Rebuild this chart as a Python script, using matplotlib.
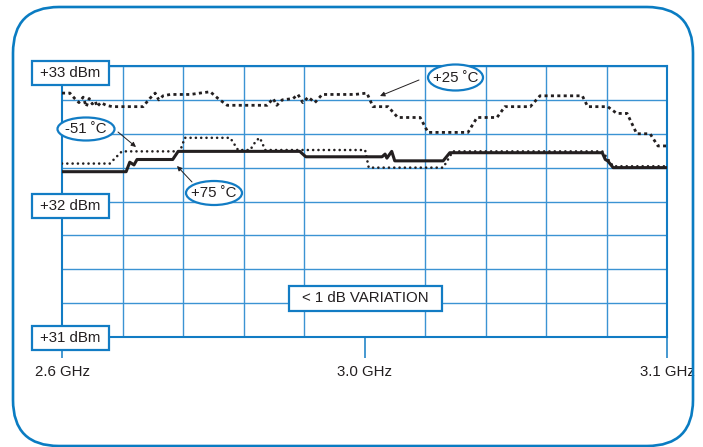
import matplotlib
matplotlib.use("Agg")
import matplotlib.pyplot as plt
from matplotlib.patches import Rectangle, Ellipse, FancyBboxPatch, FancyArrowPatch

plt.rcParams['font.family'] = ['Liberation Sans', 'DejaVu Sans']

# x in grid divisions (0 = 2.6 GHz, 5 = 3.0 GHz, 10 = 3.1 GHz), y in dBm
x_25 = [0, 0.13, 0.21, 0.28, 0.35, 0.40, 0.45, 0.50, 0.55, 0.58, 0.64, 0.73, 0.83,
        1.34, 1.45, 1.54, 1.60, 1.67, 1.79, 2.12, 2.28, 2.45, 2.58, 2.73, 3.39, 3.49,
        3.55, 3.64, 3.82, 3.90, 3.98, 4.07, 4.18, 4.30, 4.76, 4.84, 5.04, 5.14, 5.39,
        5.55, 5.92, 6.05, 6.71, 6.86, 7.19, 7.32, 7.74, 7.90, 8.60, 8.69, 9.02, 9.17,
        9.34, 9.50, 9.72, 9.85, 10]
p_25 = [32.80, 32.80, 32.76, 32.73, 32.77, 32.70, 32.76, 32.72, 32.74, 32.70, 32.73,
        32.71, 32.70, 32.70, 32.76, 32.80, 32.75, 32.78, 32.79, 32.79, 32.80, 32.81,
        32.76, 32.71, 32.71, 32.76, 32.71, 32.75, 32.76, 32.79, 32.73, 32.77, 32.73,
        32.79, 32.79, 32.79, 32.80, 32.70, 32.70, 32.62, 32.62, 32.51, 32.51, 32.62,
        32.62, 32.70, 32.70, 32.78, 32.78, 32.70, 32.70, 32.65, 32.65, 32.50, 32.50,
        32.41, 32.41]

x_m51 = [0, 0.79, 0.99, 1.95, 2.03, 2.78, 2.91, 3.11, 3.21, 3.27, 3.36, 5.01, 5.07,
         6.30, 6.46, 8.93, 9.11, 10]
p_m51 = [32.28, 32.28, 32.37, 32.37, 32.47, 32.47, 32.38, 32.38, 32.45, 32.47, 32.38,
         32.38, 32.25, 32.25, 32.37, 32.37, 32.26, 32.26]

x_75 = [0, 1.06, 1.12, 1.19, 1.24, 1.83, 1.92, 3.93, 4.03, 5.29, 5.34, 5.37, 5.45,
        5.50, 6.30, 6.41, 8.93, 8.98, 9.02, 9.11, 10]
p_75 = [32.22, 32.22, 32.29, 32.27, 32.31, 32.31, 32.37, 32.37, 32.33, 32.33, 32.35,
        32.32, 32.37, 32.30, 32.30, 32.36, 32.36, 32.31, 32.30, 32.25, 32.25]

x_ticks = [0, 5, 10]
x_labels = ["2.6 GHz", "3.0 GHz", "3.1 GHz"]
y_levels = [33, 32, 31]
y_labels = ["+33 dBm", "+32 dBm", "+31 dBm"]

BLUE = '#127cc4'
GRID = '#3b93d3'
INK = '#231f20'
W, H = 703, 447

fig = plt.figure(figsize=(W / 100, H / 100), dpi=100)
ax = fig.add_axes([62 / W, 1 - 337 / H, 605 / W, 271 / H])
ax.set_xlim(0, 10)
ax.set_ylim(31, 33)

ax.set_xticks(x_ticks)
ax.set_xticklabels(x_labels, fontsize=10.8, color=INK)
ax.set_xticks(range(11), minor=True)
ax.set_yticks([])
ax.set_yticks([31 + 0.25 * k for k in range(9)], minor=True)
ax.tick_params(axis='x', which='major', direction='out', length=15, width=1.1,
               color=BLUE, pad=5)
ax.tick_params(which='minor', length=0)
ax.grid(which='minor', color=GRID, lw=1.0)
for s in ax.spines.values():
    s.set_color(BLUE)
    s.set_linewidth(1.5)

ax.plot(x_25, p_25, color=INK, lw=2.0, linestyle=(0, (1.1, 1.2)), zorder=3)
ax.plot(x_m51, p_m51, color=INK, lw=1.9, linestyle=(0, (0.01, 2.0)),
        dash_capstyle='round', zorder=3)
ax.plot(x_75, p_75, color=INK, lw=2.2, zorder=4)

tr = fig.dpi_scale_trans


def P(px, py):
    return px / 100, (H - py) / 100


def label_box(cx, cy, w, h, txt):
    x0, y0 = P(cx - w / 2, cy + h / 2)
    fig.add_artist(Rectangle((x0, y0), w / 100, h / 100, transform=tr,
                             facecolor='white', edgecolor=BLUE, lw=1.6, zorder=5))
    fig.text(*P(cx, cy), txt, transform=tr, ha='center', va='center',
             fontsize=10.8, color=INK, zorder=6)


def label_oval(cx, cy, w, h, txt):
    fig.add_artist(Ellipse(P(cx, cy), w / 100, h / 100, transform=tr,
                           facecolor='white', edgecolor=BLUE, lw=1.6, zorder=5))
    fig.text(*P(cx, cy), txt, transform=tr, ha='center', va='center',
             fontsize=10.8, color=INK, zorder=6)


def pointer(a, b):
    fig.add_artist(FancyArrowPatch(P(*a), P(*b), transform=tr, arrowstyle='-|>',
                                   mutation_scale=7, lw=0.7, color=INK,
                                   shrinkA=0, shrinkB=0, zorder=6))


for lvl, txt, cy in zip(y_levels, y_labels, [73, 206, 338]):
    label_box(70.5, cy, 77, 24, txt)

label_box(365.5, 298.5, 153, 25, "< 1 dB VARIATION")

label_oval(86, 129, 57, 23, "-51 ˚C")
label_oval(214, 193, 56, 24, "+75 ˚C")
label_oval(455.5, 77.5, 55, 26, "+25 ˚C")

pointer((118, 132), (136, 147))
pointer((192, 182), (177, 166))
pointer((419, 80), (380, 96))

# rounded frame around everything
x0, y0 = P(13, 446)
fig.add_artist(FancyBboxPatch((x0, y0), 680 / 100, 439 / 100, transform=tr,
                              boxstyle='round,pad=0,rounding_size=0.46',
                              fill=False, edgecolor='#0a7cc2', lw=1.9, zorder=7))

fig.savefig("out.png", dpi=100)
